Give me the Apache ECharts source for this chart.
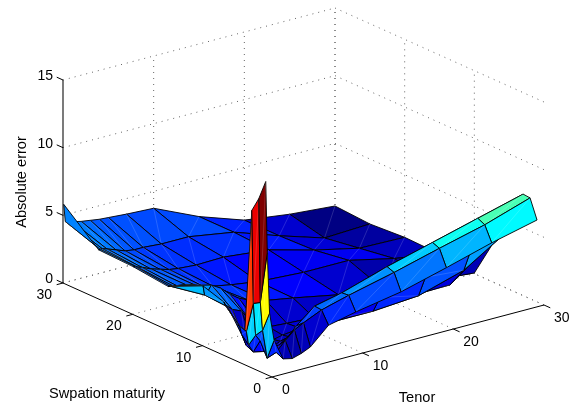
<!DOCTYPE html>
<html><head><meta charset="utf-8">
<style>html,body{margin:0;padding:0;background:#fff}#c{width:584px;height:412px}</style>
<script src="https://cdn.jsdelivr.net/npm/echarts@6/dist/echarts.min.js"></script>
</head><body><div id="c"></div>
<script>
// Data
const tenors = [0.08,0.25,0.5,1,2,3,4,5,7,10,15,20,25,30];
const maturities = [1,2,3,4,5,7,10,15,20,25,30];
const errM1  = [14.2,8.9,4.4,2.3,0.75,0.6,0.8,1.1,2.35,2.8,3.4,4.3,5.25,6.05];
const errM2  = [12.7,5.0,2.9,0.75,1.0,1.7,2.3,2.65,3.25,3.8,4.6,5.5,6.35,7.45];
const errM3  = [11.6,4.7,2.3,1.8,0.9,1.1,1.5,2.2,3.3,3.75,4.8,5.7,6.6,7.5];
const errM4  = [2.55,2.4,1.35,0.75,0.6,0.75,1.0,1.15,1.3,1.6,2.3,2.9,4.0,4.8];
const errM5  = [2.65,2.6,1.9,1.0,0.6,0.7,0.9,1.05,1.2,1.05,1.05,1.3,2.3,4.4];
const errM7  = [3.9,3.6,3.5,3.2,2.9,2.0,1.5,1.2,1.1,1.0,0.8,0.7,0.75,3.2];
const errM10 = [4.4,3.7,3.8,4.3,3.9,3.3,2.8,2.5,2.1,1.75,1.1,0.6,0.35,0.05];
const errM15 = [3.2,3.2,3.2,3.1,3.0,2.8,2.5,2.35,2.1,1.8,1.6,1.6,0.85,0.3];
const errM20 = [3.5,3.5,3.4,3.3,3.0,2.8,2.6,2.5,2.4,2.45,2.1,1.2,0.45,0.37];
const errM25 = [3.6,3.6,3.6,3.5,3.25,3.0,2.9,2.9,2.8,2.8,2.25,1.1,0.05,0.2];
const errM30 = [5.8,4.5,4.4,4.35,4.2,4.1,4.0,3.95,3.85,3.75,2.25,1.1,0.65,0.37];
const errors = [errM1,errM2,errM3,errM4,errM5,errM7,errM10,errM15,errM20,errM25,errM30];
const tenorTicks = [0,10,20,30];
const maturityTicks = [0,10,20,30];
const errorTicks = [0,5,10,15];
const colorMax = 14.2;

// 3-D view: screen position of the box corners
const origin = [272,377], tenorEnd = [544,305], matEnd = [63,283], zHeight = 203;
const rangeT = 30, rangeM = 30, rangeZ = 15;
function project(t,m,z){
  return [
    origin[0] + (tenorEnd[0]-origin[0])*t/rangeT + (matEnd[0]-origin[0])*m/rangeM,
    origin[1] + (tenorEnd[1]-origin[1])*t/rangeT + (matEnd[1]-origin[1])*m/rangeM - zHeight*z/rangeZ
  ];
}
function jet(v){
  v = Math.max(0,Math.min(1,v));
  const ch = c => Math.round(255*Math.max(0,Math.min(1,1.5-Math.abs(4*v-c))));
  return 'rgb('+ch(3)+','+ch(2)+','+ch(1)+')';
}
const dotted = {stroke:'#666',lineWidth:1,lineDash:[1,5],fill:null};
const solid = {stroke:'#000',lineWidth:1,fill:null};
const font = '"Liberation Sans", Arial, sans-serif';

// far-to-near drawing order
const cells = [];
for(let j=maturities.length-2;j>=0;j--) for(let i=tenors.length-2;i>=0;i--) cells.push([i,j]);

function seg(api,a,b,style){
  const p=api.coord(project(...a)), q=api.coord(project(...b));
  return {type:'line',shape:{x1:p[0],y1:p[1],x2:q[0],y2:q[1]},style};
}
function renderSurface(params,api){
  const i=api.value(0), j=api.value(1);
  const V=(a,b)=>api.coord(project(tenors[a],maturities[b],errors[b][a]));
  const p00=V(i,j),p10=V(i+1,j),p11=V(i+1,j+1),p01=V(i,j+1);
  const colour=jet(errors[j][i]/colorMax);
  return {type:'group',children:[
    {type:'polygon',shape:{points:[p00,p10,p11,p01]},style:{fill:colour,stroke:'#000',lineWidth:0.9,lineJoin:'round'}},
    {type:'line',shape:{x1:p00[0],y1:p00[1],x2:p11[0],y2:p11[1]},style:{stroke:'rgba(255,255,255,0.22)',lineWidth:0.7}}
  ]};
}
function renderFrame(params,api){
  const ch=[], Z=rangeZ;
  errorTicks.forEach(z=>{ if(z>0){
    ch.push(seg(api,[0,rangeM,z],[rangeT,rangeM,z],dotted));
    ch.push(seg(api,[rangeT,rangeM,z],[rangeT,0,z],dotted));
  }});
  ch.push(seg(api,[0,rangeM,0],[rangeT,rangeM,0],dotted));
  ch.push(seg(api,[rangeT,rangeM,0],[rangeT,0,0],dotted));
  tenorTicks.forEach(t=>{ if(t>0){
    ch.push(seg(api,[t,0,0],[t,rangeM,0],dotted));
    ch.push(seg(api,[t,rangeM,0],[t,rangeM,Z],dotted));
  }});
  maturityTicks.forEach(m=>{ if(m>0){
    ch.push(seg(api,[0,m,0],[rangeT,m,0],dotted));
    ch.push(seg(api,[rangeT,m,0],[rangeT,m,Z],dotted));
  }});
  ch.push(seg(api,[0,0,0],[rangeT,0,0],solid));
  ch.push(seg(api,[0,0,0],[0,rangeM,0],solid));
  ch.push(seg(api,[0,rangeM,0],[0,rangeM,Z],{stroke:'#222',lineWidth:1.2,fill:null}));
  tenorTicks.forEach(t=>ch.push(seg(api,[t,0,0],[t,-0.9,0],solid)));
  maturityTicks.forEach(m=>ch.push(seg(api,[0,m,0],[-0.7,m,0],solid)));
  errorTicks.forEach(z=>ch.push(seg(api,[0,rangeM,z],[0,rangeM+0.9,z],solid)));
  const label=(txt,p,dx,dy,align)=>{const q=api.coord(p);return {type:'text',x:q[0]+dx,y:q[1]+dy,style:{text:txt,fontSize:14,fontFamily:font,fill:'#000',align,verticalAlign:'middle'}};};
  tenorTicks.forEach(t=>ch.push(label(String(t),project(t,0,0),10,13.5,'left')));
  maturityTicks.forEach(m=>ch.push(label(String(m),project(0,m,0),-11,12,'right')));
  errorTicks.forEach(z=>ch.push(label(String(z),project(0,rangeM,z),-10,-3.5,'right')));
  return {type:'group',children:ch};
}
function renderTitles(params,api){
  const t=(txt,p,rot)=>{const q=api.coord(p);return {type:'text',x:q[0],y:q[1],rotation:rot||0,style:{text:txt,fontSize:14.6,fontFamily:font,fill:'#000',align:'center',verticalAlign:'middle'}};};
  return {type:'group',children:[
    t('Absolute error',[22,182],Math.PI/2),
    t('Swpation maturity',[107,394]),
    t('Tenor',[417,398])
  ]};
}
const chart = echarts.init(document.getElementById('c'),null,{renderer:'canvas'});
chart.setOption({
  animation:false,
  backgroundColor:'#fff',
  grid:{left:0,right:0,top:0,bottom:0},
  xAxis:{type:'value',min:0,max:584,show:false},
  yAxis:{type:'value',min:0,max:412,inverse:true,show:false},
  series:[
    {type:'custom',coordinateSystem:'cartesian2d',renderItem:renderFrame,data:[[0,0]],silent:true,clip:false,z:1},
    {type:'custom',coordinateSystem:'cartesian2d',renderItem:renderSurface,data:cells,silent:true,clip:false,z:2,progressive:0},
    {type:'custom',coordinateSystem:'cartesian2d',renderItem:renderTitles,data:[[0,0]],silent:true,clip:false,z:3}
  ]
});
</script></body></html>
